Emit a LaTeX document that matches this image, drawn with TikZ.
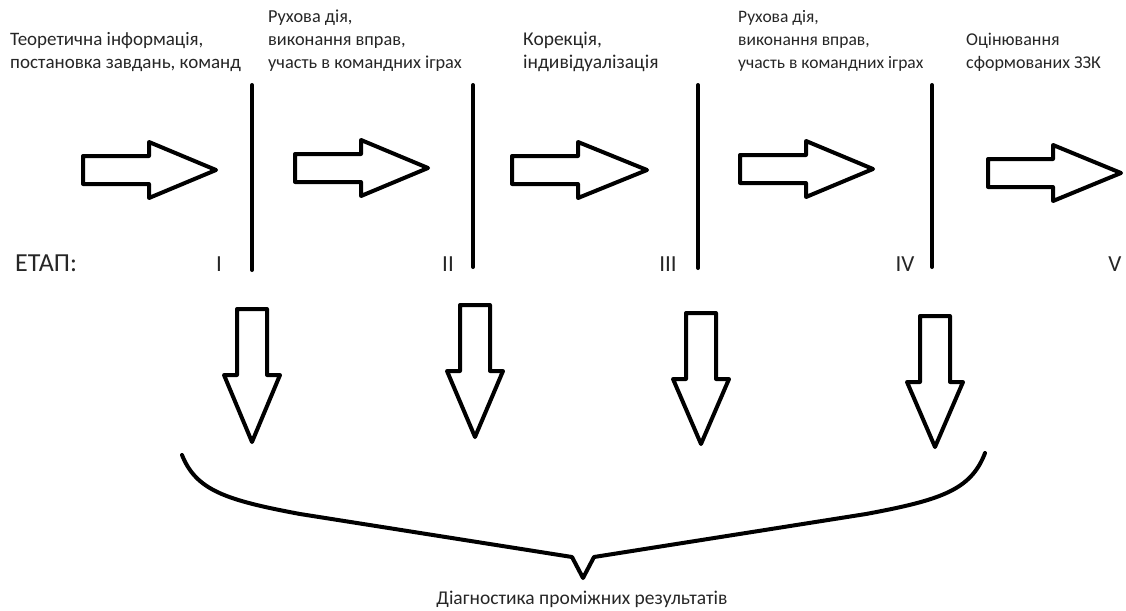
\documentclass[tikz,border=0pt]{standalone}
\usepackage{fontspec}
\setmainfont{Carlito}
\tikzset{
  shapeline/.style={draw=black, line width=4pt, line join=round, line cap=round, fill=white},
  bar/.style={draw=black, line width=4pt, line cap=round},
  lbl/.style={inner sep=0pt, align=left, text=black!85, anchor=base west},
  num/.style={inner sep=0pt, text=black!85, font=\fontsize{23}{27}\selectfont},
}
% right block arrow: #1 shaft left x, #2 head base x, #3 tip x, #4 centre y
\newcommand{\blockR}[4]{%
  \draw[shapeline] (#1,#4-14) -- (#2,#4-14) -- (#2,#4-28) -- (#3,#4) -- (#2,#4+28) -- (#2,#4+14) -- (#1,#4+14) -- cycle;}
% down block arrow: #1 centre x, #2 shaft top y, #3 head base y, #4 tip y
\newcommand{\blockD}[4]{%
  \draw[shapeline] (#1-15,#2) -- (#1+15,#2) -- (#1+15,#3) -- (#1+28,#3) -- (#1,#4) -- (#1-28,#3) -- (#1-15,#3) -- cycle;}
\begin{document}
\begin{tikzpicture}[x=1pt, y=-1pt]
\useasboundingbox (0,0) rectangle (1126,610);
\fill[white] (0,0) rectangle (1126,610);

% stage labels (base = baseline of last line)
\node[lbl, font=\fontsize{19}{23}\selectfont] (t1) at (10,69) {Теоретична інформація,\\постановка завдань, команд};
\node[lbl, font=\fontsize{18.3}{23}\selectfont] (t2) at (268,69) {Рухова дія,\\виконання вправ,\\участь в командних іграх};
\node[lbl, font=\fontsize{19.5}{23}\selectfont] (t3) at (523,69) {Корекція,\\індивідуалізація};
\node[lbl, font=\fontsize{17.5}{23}\selectfont] (t4) at (738,69) {Рухова дія,\\виконання вправ,\\участь в командних іграх};
\node[lbl, font=\fontsize{18}{23}\selectfont] (t5) at (966,69) {Оцінювання\\сформованих ЗЗК};

% separators
\draw[bar] (252,85) -- (252,270);
\draw[bar] (473,85) -- (473,267);
\draw[bar] (698,85) -- (698,268);
\draw[bar] (932,85) -- (932,267);

% right arrows
\blockR{83}{149}{216}{170}
\blockR{295}{361}{428}{168}
\blockR{512}{578}{647}{170}
\blockR{740}{806}{873}{169}
\blockR{988}{1053}{1121}{173}

% stage numbers
\node[num, anchor=west, font=\fontsize{26}{30}\selectfont] (etap) at (15,263) {ЕТАП:};
\node[num] (s1) at (219,264) {I};
\node[num] (s2) at (448,264) {II};
\node[num] (s3) at (668,264) {III};
\node[num] (s4) at (905,264) {IV};
\node[num] (s5) at (1115,264) {V};

% down arrows
\blockD{252}{309}{375}{442}
\blockD{475}{305}{371}{437}
\blockD{701}{313}{379}{444}
\blockD{935}{316}{382}{447}

% brace
\draw[bar, line join=round] (182,455) .. controls (196,490) and (225,500) .. (300,514)
  -- (572,557) -- (583,578) -- (594,557) -- (866,514)
  .. controls (941,500) and (971,490) .. (985,453);

\node[lbl, anchor=base, font=\fontsize{19.5}{23}\selectfont] (diag) at (582,604) {Діагностика проміжних результатів};
\end{tikzpicture}
\end{document}
